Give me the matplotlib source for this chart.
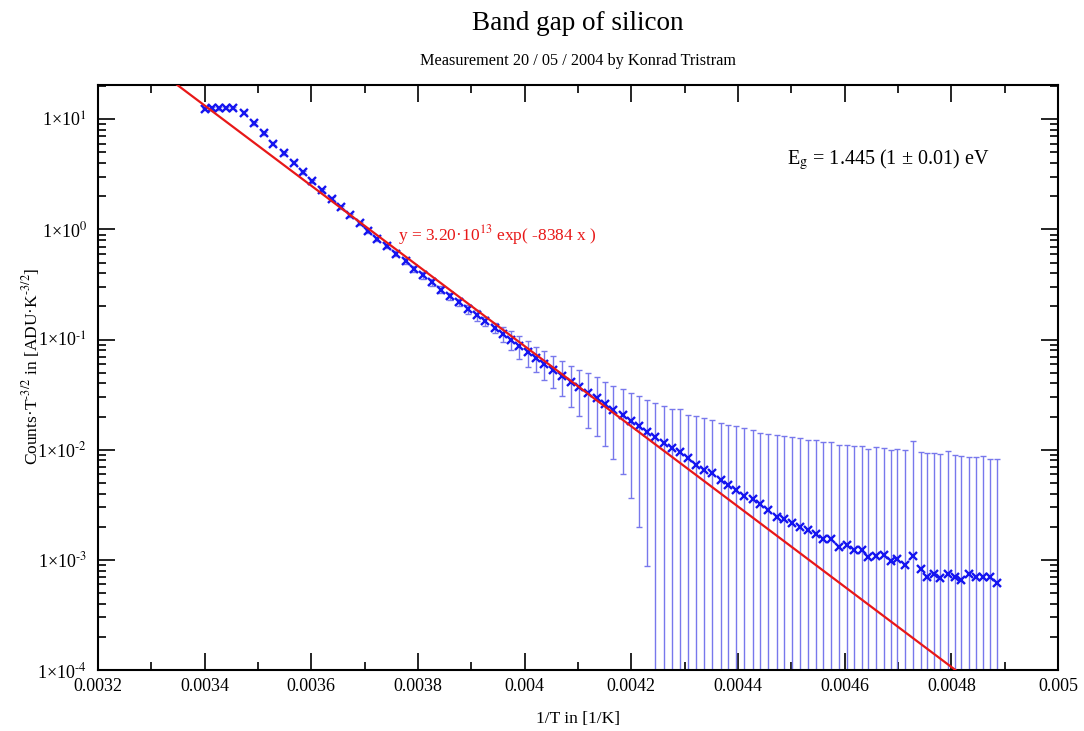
import numpy as np
import matplotlib
matplotlib.use("Agg")
import matplotlib.pyplot as plt
from matplotlib.ticker import FixedLocator, FuncFormatter, LogLocator, MultipleLocator

plt.rcParams["font.family"] = ["Liberation Serif", "DejaVu Serif"]
plt.rcParams["mathtext.fontset"] = "stix"

# measured points: 1/T [1/K], counts*T^-3/2 and its error
inv_t = [
    0.003401, 0.003414, 0.003427, 0.003440, 0.003453, 0.003474, 0.003492, 0.003511,
    0.003529, 0.003549, 0.003567, 0.003584, 0.003602, 0.003620, 0.003638, 0.003656,
    0.003673, 0.003691, 0.003707, 0.003724, 0.003741,
    0.003759, 0.003777, 0.003793, 0.003810, 0.003827, 0.003843, 0.003860, 0.003877,
    0.003894, 0.003910, 0.003926, 0.003944, 0.003959, 0.003974, 0.003990, 0.004006,
    0.004021, 0.004037, 0.004054, 0.004070, 0.004086, 0.004102, 0.004119, 0.004135,
    0.004151, 0.004166, 0.004184, 0.004199, 0.004214, 0.004230, 0.004244, 0.004261,
    0.004276, 0.004291, 0.004306, 0.004321, 0.004337, 0.004351, 0.004368, 0.004382,
    0.004396, 0.004411, 0.004428, 0.004442, 0.004456, 0.004473, 0.004487, 0.004502,
    0.004516, 0.004531, 0.004546, 0.004560, 0.004574, 0.004589, 0.004604, 0.004618,
    0.004633, 0.004644, 0.004658, 0.004673, 0.004686, 0.004699, 0.004714, 0.004728,
    0.004743, 0.004754, 0.004767, 0.004779, 0.004793, 0.004807, 0.004819, 0.004833,
    0.004846, 0.004860, 0.004873, 0.004885,
]
counts = [
    12.4, 12.6, 12.6, 12.7, 12.7, 11.5, 9.19, 7.46,
    6.01, 4.91, 4.04, 3.32, 2.75, 2.28, 1.90, 1.595,
    1.34, 1.134, 0.959, 0.816, 0.701,
    0.605, 0.515, 0.442, 0.384, 0.332, 0.285, 0.2475, 0.2183,
    0.190, 0.1663, 0.1467, 0.1285, 0.1127, 0.100, 0.0869, 0.0766,
    0.0682, 0.0605, 0.0534, 0.0471, 0.0413, 0.0368, 0.0328, 0.0295,
    0.0262, 0.0231, 0.0208, 0.01835, 0.01628, 0.01448, 0.01294, 0.0115,
    0.01036, 0.00953, 0.00833, 0.0073, 0.00648, 0.00614, 0.00526, 0.00481,
    0.00433, 0.00382, 0.00358, 0.00321, 0.00285, 0.00247, 0.00234, 0.00218,
    0.0020, 0.00187, 0.00172, 0.00156, 0.00154, 0.00132, 0.00137, 0.00123,
    0.00123, 0.00107, 0.00109, 0.00111, 0.00098, 0.00101, 0.0009, 0.00109,
    0.00082, 0.000705, 0.000746, 0.00069, 0.000751, 0.000705, 0.000654, 0.000746,
    0.000697, 0.000705, 0.000697, 0.000614,
]
errors = [
    0.35, 0.35, 0.35, 0.35, 0.35, 0.32, 0.26, 0.21,
    0.17, 0.14, 0.12, 0.10, 0.085, 0.072, 0.062, 0.053,
    0.046, 0.040, 0.035, 0.031, 0.027,
    0.03, 0.03, 0.028, 0.026, 0.024, 0.020, 0.018, 0.016,
    0.018, 0.018, 0.014, 0.0133, 0.0177, 0.019, 0.0203, 0.0199,
    0.0176, 0.0178, 0.0171, 0.0164, 0.0167, 0.0166, 0.017, 0.0162,
    0.0153, 0.0148, 0.0148, 0.0147, 0.0143, 0.0136, 0.0137, 0.0136,
    0.0132, 0.0137, 0.0125, 0.0131, 0.0129, 0.0123, 0.0122, 0.0121,
    0.0120, 0.0119, 0.0116, 0.011, 0.0111, 0.0112, 0.0111, 0.0109,
    0.0108, 0.0105, 0.0106, 0.0103, 0.0101, 0.0098, 0.0096, 0.0096,
    0.0095, 0.0091, 0.0094, 0.0092, 0.0090, 0.0092, 0.0091, 0.011,
    0.0088, 0.0087, 0.0085, 0.0085, 0.0089, 0.0083, 0.0082, 0.0078,
    0.0079, 0.0081, 0.0075, 0.0076,
]

# fit y = A exp(-B x)
fit_a = 3.20e13
fit_b = 8384.0

x_ticks = [0.0032, 0.0034, 0.0036, 0.0038, 0.004, 0.0042, 0.0044, 0.0046, 0.0048, 0.005]
x_tick_labels = ["0.0032", "0.0034", "0.0036", "0.0038", "0.004",
                 "0.0042", "0.0044", "0.0046", "0.0048", "0.005"]
y_decades = [-4, -3, -2, -1, 0, 1]

W, H = 1084, 731
fig = plt.figure(figsize=(W / 100, H / 100), dpi=100)
ax = fig.add_axes([98 / W, (H - 670) / H, 960 / W, 585 / H])

ax.errorbar(inv_t, counts, yerr=errors, fmt="none", ecolor="#7878ec",
            elinewidth=1.0, capsize=2.2, capthick=1.0, zorder=2)
ax.plot(inv_t, counts, ls="none", marker="x", ms=5.5, mew=1.7,
        color="#1515f0", zorder=3)

xf = np.linspace(0.0032, 0.005, 200)
ax.plot(xf, fit_a * np.exp(-fit_b * xf), color="#e81818", lw=1.6, zorder=4)

ax.set_yscale("log")
ax.set_xlim(0.0032, 0.005)
ax.set_ylim(1e-4, 20.5)

ax.xaxis.set_major_locator(FixedLocator(x_ticks))
ax.set_xticklabels(x_tick_labels)
ax.xaxis.set_minor_locator(MultipleLocator(0.0001))
ax.yaxis.set_major_locator(FixedLocator([10.0 ** d for d in y_decades]))
ax.yaxis.set_minor_locator(LogLocator(base=10, subs=np.arange(2, 10)))
ax.yaxis.set_minor_formatter(FuncFormatter(lambda v, p: ""))
ax.yaxis.set_major_formatter(FuncFormatter(
    lambda v, p: r"1×10$^{\text{%d}}$" % int(round(np.log10(v)))))

ax.tick_params(which="both", direction="in", top=True, right=True,
               labelsize=13, width=1.2, colors="black")
ax.tick_params(which="major", length=12)
ax.tick_params(which="minor", length=6)
ax.tick_params(axis="y", pad=8)
ax.tick_params(axis="x", pad=6)
for s in ax.spines.values():
    s.set_linewidth(1.5)

ax.text(0.3125, 0.7436, r"y = 3.20·10$^{\text{13}}$ exp( -8384 x )",
        transform=ax.transAxes, color="#e81818", fontsize=12.5,
        ha="left", va="center")
ax.text(0.7177, 0.872, r"E$_{\text{g}}$ = 1.445 (1 ± 0.01) eV",
        transform=ax.transAxes, fontsize=14.5, ha="left", va="center")

fig.text(578 / W, 1 - 24 / H, "Band gap of silicon", fontsize=19.5,
         ha="center", va="center")
fig.text(578 / W, 1 - 61 / H, "Measurement 20 / 05 / 2004 by Konrad Tristram",
         fontsize=11.7, ha="center", va="center")
fig.text(578 / W, 1 - 719 / H, "1/T in [1/K]", fontsize=12.5,
         ha="center", va="center")
fig.text(31 / W, 1 - 366 / H,
         r"Counts·T$^{\text{-3/2}}$ in [ADU·K$^{\text{-3/2}}$]",
         fontsize=12.5, rotation=90, ha="center", va="center")

fig.savefig("out.png", dpi=100)
